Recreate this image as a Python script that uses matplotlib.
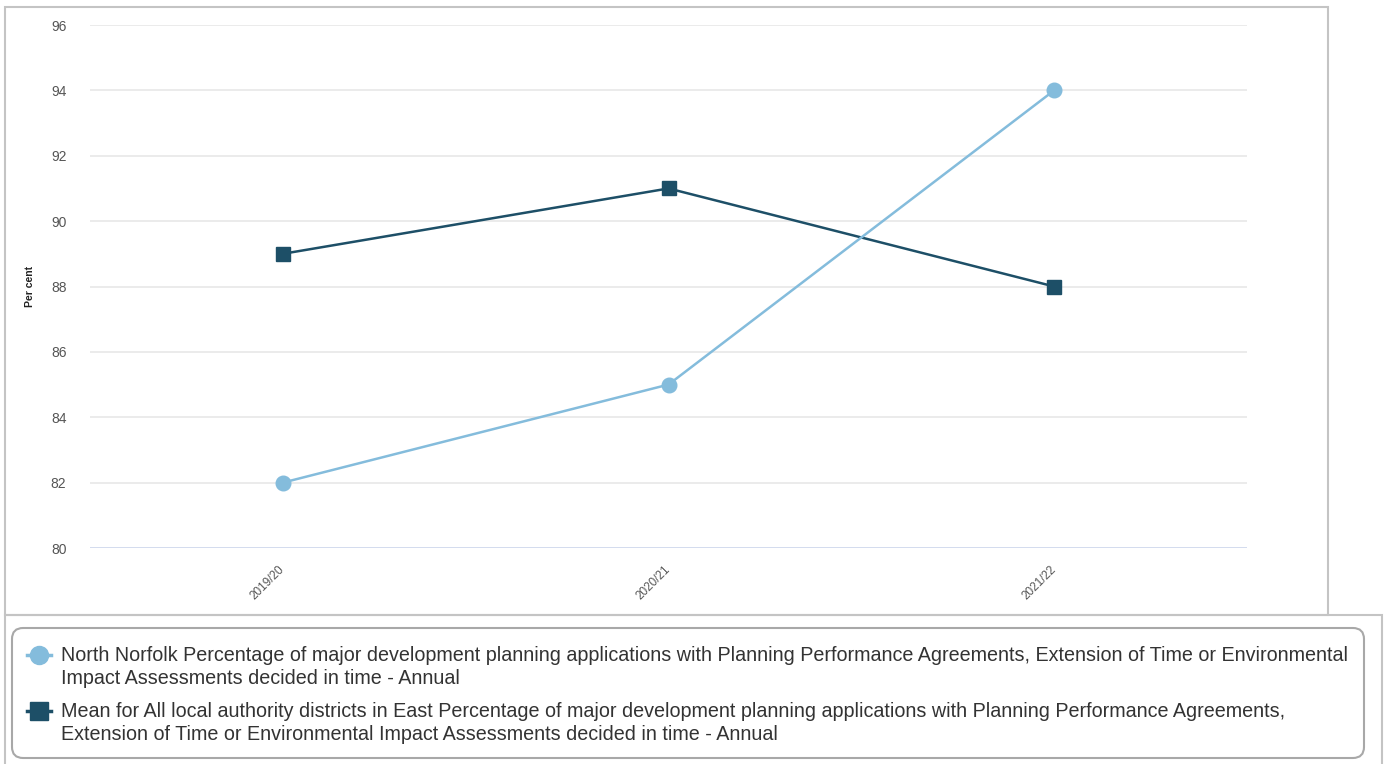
import matplotlib.pyplot as plt
import matplotlib.patches as mpatches
from matplotlib.lines import Line2D

plt.rcParams['font.family'] = ['Liberation Sans', 'DejaVu Sans']

years = ['2019/20', '2020/21', '2021/22']
northNorfolk = [82, 85, 94]
eastMean = [89, 91, 88]
yTicks = [80, 82, 84, 86, 88, 90, 92, 94, 96]

labelNN = ('North Norfolk Percentage of major development planning applications with Planning Performance Agreements, Extension of Time or Environmental\n'
           'Impact Assessments decided in time - Annual')
labelEast = ('Mean for All local authority districts in East Percentage of major development planning applications with Planning Performance Agreements,\n'
             'Extension of Time or Environmental Impact Assessments decided in time - Annual')

colorNN = '#84bcdc'
colorEast = '#1d4f67'

W, H = 1384, 764
fig = plt.figure(figsize=(W / 100, H / 100), dpi=100)

def fx(px):
    return px / W

def fy(py):
    return 1 - py / H

# outer frames
fig.patches.append(mpatches.Rectangle((fx(5), fy(615)), fx(1323), 608 / H, transform=fig.transFigure,
                                      fill=False, edgecolor='#c4c4c4', linewidth=1.5))
fig.patches.append(mpatches.Rectangle((fx(5), fy(766)), fx(1377), 151 / H, transform=fig.transFigure,
                                      fill=False, edgecolor='#c4c4c4', linewidth=1.5))
fig.patches.append(mpatches.FancyBboxPatch((fx(12), fy(758)), fx(1352), 130 / H, transform=fig.transFigure,
                                           boxstyle='round,pad=0,rounding_size=0.008', fill=False,
                                           edgecolor='#a8a8a8', linewidth=1.5, mutation_aspect=W / H))

ax = fig.add_axes([fx(90), fy(548), fx(1157), (548 - 25) / H])
x = list(range(len(years)))
ax.plot(x, eastMean, color=colorEast, linewidth=1.8, marker='s', markersize=10.5, zorder=3)
ax.plot(x, northNorfolk, color=colorNN, linewidth=1.8, marker='o', markersize=10.5, zorder=4)

ax.set_xlim(-0.5, 2.5)
ax.set_ylim(80, 96)
ax.set_yticks(yTicks)
ax.set_yticklabels([str(v) for v in yTicks], fontsize=10, color='#555555')
ax.set_xticks(x)
ax.set_xticklabels(years, rotation=45, ha='right', va='center', rotation_mode='anchor',
                   fontsize=8.5, color='#555555')
ax.tick_params(axis='both', length=0)
ax.tick_params(axis='y', pad=17)
ax.tick_params(axis='x', pad=14)
for v in yTicks:
    ax.axhline(v, color='#ccd6eb' if v == 80 else '#e8e8e8', linewidth=1.2, zorder=1)
for s in ax.spines.values():
    s.set_visible(False)
fig.text(fx(30), fy(286), 'Per cent', fontsize=7.5, fontweight='bold', color='#222222',
         rotation=90, ha='center', va='center')

# legend entries
entries = [(655, labelNN, colorNN, 'o'), (711, labelEast, colorEast, 's')]
for py, txt, c, m in entries:
    fig.add_artist(Line2D([fx(27), fx(51)], [fy(py), fy(py)], transform=fig.transFigure,
                          color=c, linewidth=2.5))
    fig.add_artist(Line2D([fx(39)], [fy(py)], transform=fig.transFigure,
                          color=c, marker=m, markersize=13, linestyle='none'))
    fig.text(fx(61), fy(py - 9), txt, fontsize=14.2, color='#333333', va='top', ha='left',
             linespacing=1.3)

fig.savefig('out.png', dpi=100)
